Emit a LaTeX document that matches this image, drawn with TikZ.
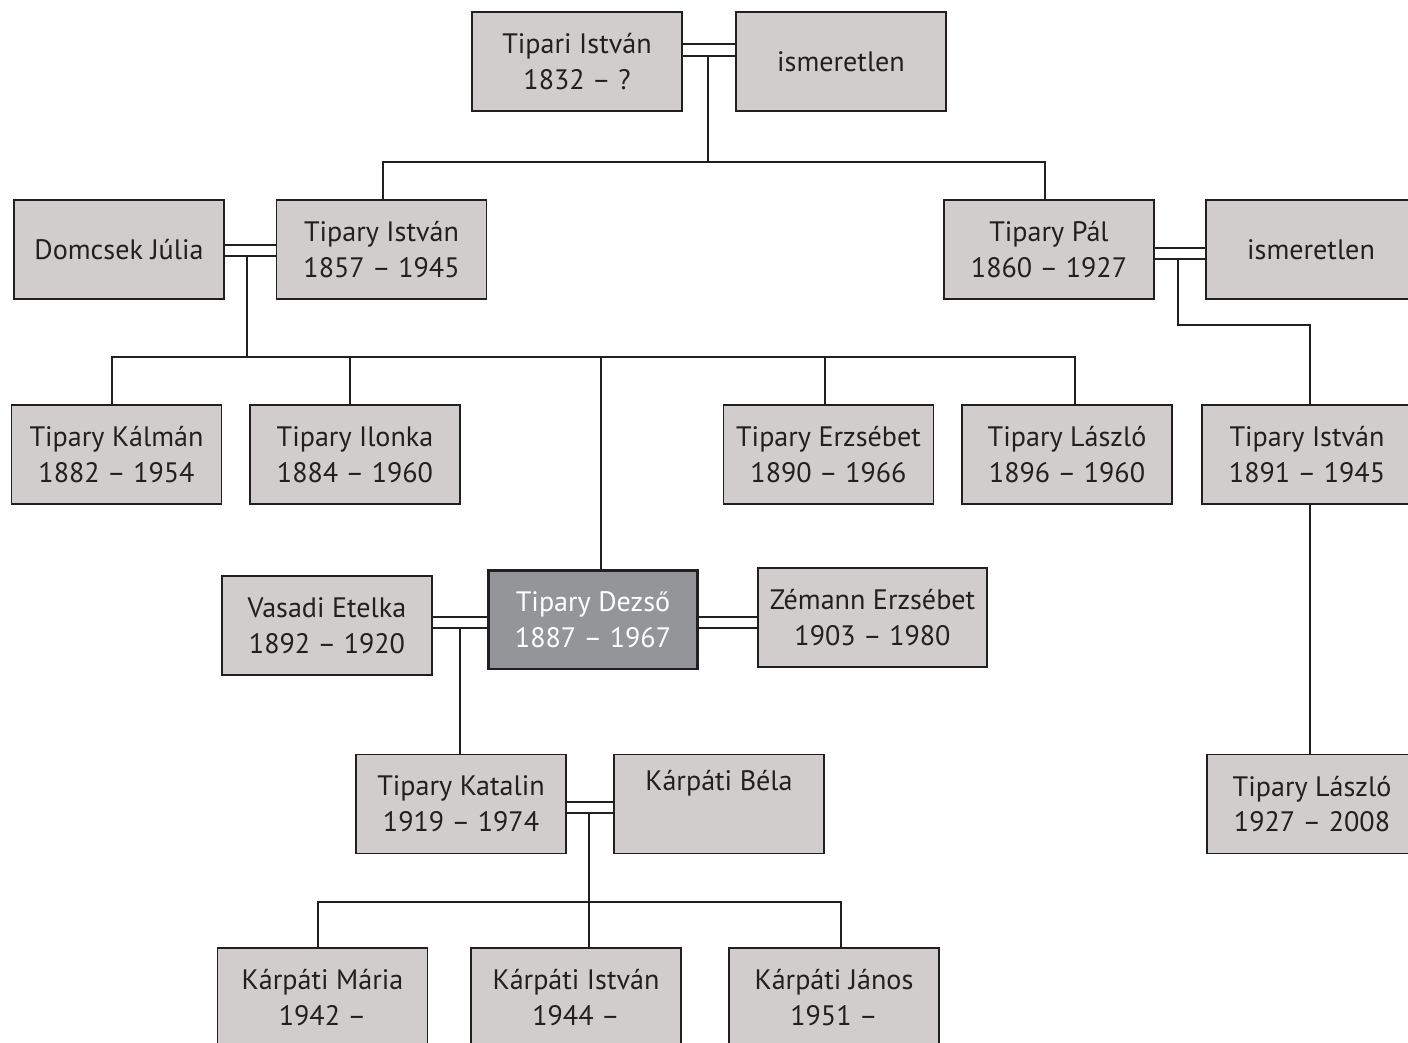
\documentclass[tikz,border=0pt]{standalone}
\usepackage{fontspec}
\setmainfont{PT Sans}
\usepackage{tikz}

\definecolor{ink}{RGB}{35,31,32}
\definecolor{boxgray}{RGB}{209,205,204}
\definecolor{heroGray}{RGB}{147,149,152}

\tikzset{
  person/.style={draw=ink, fill=boxgray, line width=0.9pt, inner sep=0pt,
    minimum width=4.2cm, minimum height=1.98cm, align=center, text=ink,
    font=\fontsize{16}{20.4}\selectfont},
  hero/.style={person, fill=heroGray, line width=1.7pt, text=white},
  link/.style={draw=ink, line width=1.4pt}
}

\begin{document}
\begin{tikzpicture}[x=0.02cm, y=-0.02cm]
\useasboundingbox (0,0) rectangle (1408,1043);
\clip (0,0) rectangle (1408,1043);
\node[person] (tipari) at (577,61.5) {Tipari István\\1832 -- ?};
\node[person] (ismA) at (841,61.5) {ismeretlen};
\node[person] (domcsek) at (119,249.5) {Domcsek Júlia};
\node[person] (istvanA) at (381.5,249.5) {Tipary István\\1857 -- 1945};
\node[person] (pal) at (1049,249.5) {Tipary Pál\\1860 -- 1927};
\node[person] (ismB) at (1311,249.5) {ismeretlen};
\node[person] (kalman) at (116.5,454.5) {Tipary Kálmán\\1882 -- 1954};
\node[person] (ilonka) at (355,454.5) {Tipary Ilonka\\1884 -- 1960};
\node[person] (erzsebet) at (828.5,454.5) {Tipary Erzsébet\\1890 -- 1966};
\node[person] (laszloA) at (1067,454.5) {Tipary László\\1896 -- 1960};
\node[person] (istvanB) at (1307,454.5) {Tipary István\\1891 -- 1945};
\node[person] (vasadi) at (327,625.5) {Vasadi Etelka\\1892 -- 1920};
\node[hero] (dezso) at (593,619.5) {Tipary Dezső\\1887 -- 1967};
\node[person, minimum width=4.58cm] (zemann) at (872.5,617.5) {Zémann Erzsébet\\1903 -- 1980};
\node[person] (katalin) at (461,804) {Tipary Katalin\\1919 -- 1974};
\node[person] (bela) at (719,804) {Kárpáti Béla\\\strut};
\node[person] (laszloB) at (1312,804) {Tipary László\\1927 -- 2008};
\node[person] (maria) at (322.5,997.5) {Kárpáti Mária\\1942 --};
\node[person] (istvanC) at (576,997.5) {Kárpáti István\\1944 --};
\node[person] (janos) at (834,997.5) {Kárpáti János\\1951 --};

\coordinate (mA) at (708,56);
\coordinate (busA) at (708,162);
\coordinate (mB) at (247,256);
\coordinate (busB) at (247,357);
\coordinate (mC) at (1178,259);
\coordinate (mD) at (460,628);
\coordinate (mE) at (589,813);

\foreach \y in {44,56}
  \draw[link] (tipari.east |- 0,\y) -- (ismA.west |- 0,\y);
\foreach \y in {245,256}
  \draw[link] (domcsek.east |- 0,\y) -- (istvanA.west |- 0,\y);
\foreach \y in {248,259}
  \draw[link] (pal.east |- 0,\y) -- (ismB.west |- 0,\y);
\foreach \y in {617,628}
  \draw[link] (vasadi.east |- 0,\y) -- (dezso.west |- 0,\y);
\foreach \y in {617,628}
  \draw[link] (dezso.east |- 0,\y) -- (zemann.west |- 0,\y);
\foreach \y in {802,813}
  \draw[link] (katalin.east |- 0,\y) -- (bela.west |- 0,\y);

\draw[link] (mA) -- (busA);
\draw[link] ([xshift=0.8pt]istvanA.north) |- (busA);
\draw[link] ([xshift=-2.3pt]pal.north) |- (busA);

\draw[link] (mB) -- (busB);
\draw[link] ([xshift=-2.6pt]kalman.north) |- (busB);
\draw[link] ([xshift=4.5pt]laszloA.north) |- (busB);
\draw[link] ([xshift=-2.8pt]ilonka.north) -- ([xshift=-2.8pt]ilonka.north |- busB);
\draw[link] ([xshift=-2pt]erzsebet.north) -- ([xshift=-2pt]erzsebet.north |- busB);
\draw[link] ([xshift=4.5pt]dezso.north) -- ([xshift=4.5pt]dezso.north |- busB);

\draw[link] (mC) -- (mC |- 0,325) -| ([xshift=1.7pt]istvanB.north);
\draw[link] ([xshift=1.7pt]istvanB.south) -- ([xshift=1.7pt]istvanB.south |- laszloB.north);

\draw[link] (mD) -- (mD |- katalin.north);

\draw[link] (mE) -- (mE |- istvanC.north);
\draw[link] ([xshift=-2.6pt]maria.north) -- ++(0,-45) -| ([xshift=4pt]janos.north);
\end{tikzpicture}
\end{document}
